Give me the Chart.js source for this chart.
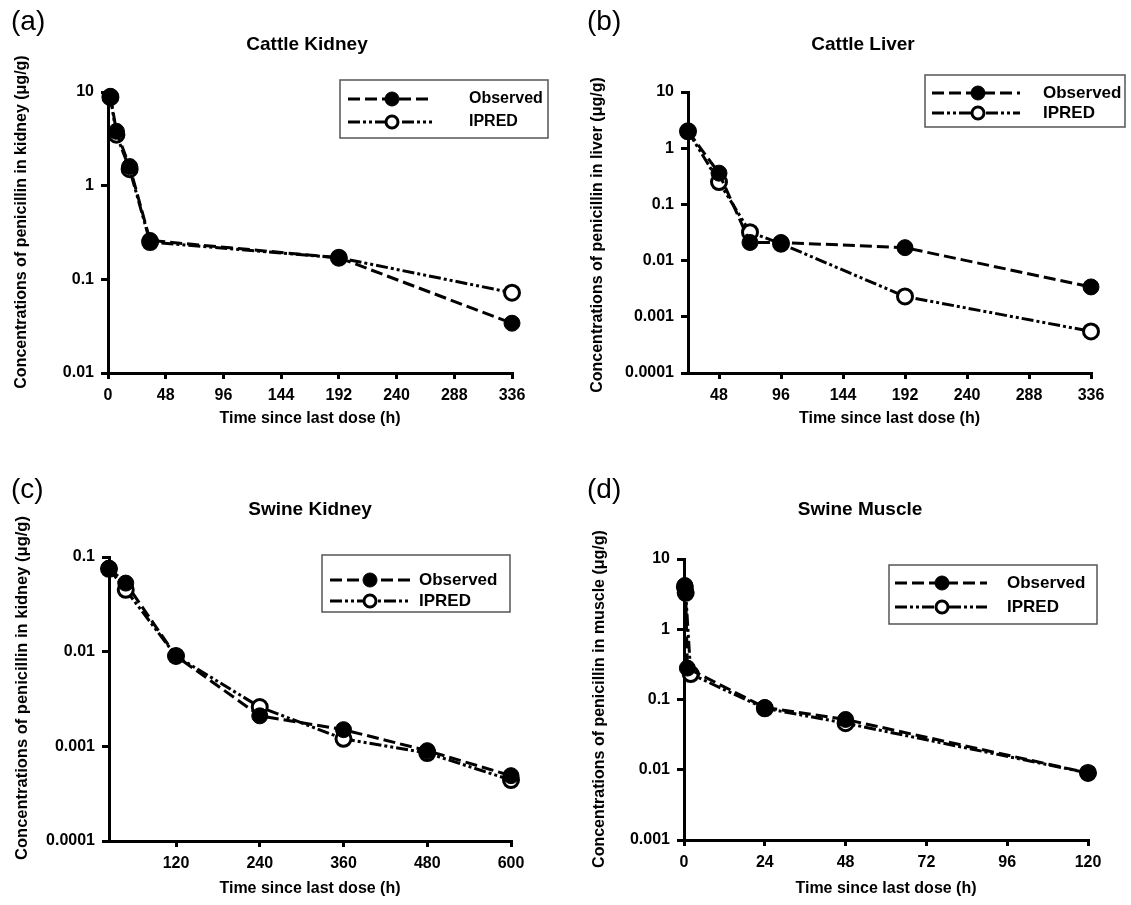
<!DOCTYPE html>
<html>
<head>
<meta charset="utf-8">
<script src="https://cdn.jsdelivr.net/npm/chart.js@4"></script>
<style>
  body { margin: 0; background: #fff; }
  #wrap { position: relative; width: 1131px; height: 905px; }
  canvas { position: absolute; }
</style>
</head>
<body>
<div id="wrap">
  <canvas id="cA" width="565" height="452" style="left:0;top:0"></canvas>
  <canvas id="cB" width="566" height="452" style="left:565px;top:0"></canvas>
  <canvas id="cC" width="565" height="453" style="left:0;top:452px"></canvas>
  <canvas id="cD" width="566" height="453" style="left:565px;top:452px"></canvas>
</div>
<script>
// (a) Cattle kidney
const kidneyCattleObsT = [2, 7, 18, 35, 192, 336];
const kidneyCattleObs  = [9.0, 3.8, 1.6, 0.26, 0.17, 0.034];
const kidneyCattlePredT = [2, 7, 18, 35, 192, 336];
const kidneyCattlePred  = [8.8, 3.5, 1.5, 0.25, 0.17, 0.072];

// (b) Cattle liver
const liverObsT = [24, 48, 72, 96, 192, 336];
const liverObs  = [2.0, 0.36, 0.021, 0.021, 0.017, 0.0034];
const liverPredT = [24, 48, 72, 96, 192, 336];
const liverPred  = [2.0, 0.25, 0.032, 0.02, 0.0023, 0.00055];

// (c) Swine kidney
const kidneySwineObsT = [24, 48, 120, 240, 360, 480, 600];
const kidneySwineObs  = [0.076, 0.053, 0.009, 0.0021, 0.0015, 0.0009, 0.00049];
const kidneySwinePredT = [24, 48, 120, 240, 360, 480, 600];
const kidneySwinePred  = [0.075, 0.045, 0.009, 0.0026, 0.0012, 0.00085, 0.00044];

// (d) Swine muscle
const muscleObsT = [0.25, 0.5, 1, 24, 48, 120];
const muscleObs  = [4.2, 3.4, 0.28, 0.077, 0.052, 0.009];
const musclePredT = [0.25, 0.5, 2, 24, 48, 120];
const musclePred  = [4.0, 3.3, 0.23, 0.075, 0.046, 0.009];

// ticks
const xTicksA = [0, 48, 96, 144, 192, 240, 288, 336];
const xTicksB = [48, 96, 144, 192, 240, 288, 336];
const xTicksC = [120, 240, 360, 480, 600];
const xTicksD = [0, 24, 48, 72, 96, 120];
const yTicksA = [0.01, 0.1, 1, 10];
const yTicksB = [0.0001, 0.001, 0.01, 0.1, 1, 10];
const yTicksC = [0.0001, 0.001, 0.01, 0.1];
const yTicksD = [0.001, 0.01, 0.1, 1, 10];
const yLabelText = { 0.0001: '0.0001', 0.001: '0.001', 0.01: '0.01', 0.1: '0.1', 1: '1', 10: '10' };

const FONT = "'Liberation Sans', Arial, sans-serif";
const obsDash = [12, 5];
const predDash = [12, 3, 3, 3, 3, 3];

function pairs(xs, ys) {
  return xs.map((x, i) => ({ x: x, y: ys[i] }));
}

// panel letter, titles and legend box
const decor = {
  id: 'decor',
  afterDraw(chart) {
    const o = chart.options.plugins.decor;
    const ctx = chart.ctx;
    ctx.save();
    ctx.fillStyle = '#000';
    ctx.textBaseline = 'middle';
    ctx.textAlign = 'left';
    ctx.font = '28px ' + FONT;
    ctx.fillText(o.letter, o.letterX, o.letterY);
    ctx.textAlign = 'center';
    ctx.font = 'bold 19px ' + FONT;
    ctx.fillText(o.title, o.titleX, o.titleY);

    // y axis title
    ctx.save();
    ctx.translate(o.yTitleX, o.yTitleY);
    ctx.rotate(-Math.PI / 2);
    ctx.font = 'bold ' + o.yTitleSize + 'px ' + FONT;
    ctx.fillText(o.yTitle, 0, 0);
    ctx.restore();

    const L = o.legend;
    ctx.strokeStyle = '#555';
    ctx.lineWidth = 1.5;
    ctx.strokeRect(L.x, L.y, L.w, L.h);
    const rows = [
      { text: 'Observed', dash: obsDash, fill: '#000', r: 7, bw: 1 },
      { text: 'IPRED', dash: predDash, fill: '#fff', r: 6, bw: 3 }
    ];
    rows.forEach((row, i) => {
      const y = L.rows[i];
      ctx.strokeStyle = '#000';
      ctx.lineWidth = 3;
      ctx.setLineDash(row.dash);
      ctx.beginPath();
      ctx.moveTo(L.x1, y);
      ctx.lineTo(L.x2, y);
      ctx.stroke();
      ctx.setLineDash([]);
      ctx.beginPath();
      ctx.arc(L.mx, y, row.r, 0, Math.PI * 2);
      ctx.fillStyle = row.fill;
      ctx.fill();
      ctx.lineWidth = row.bw;
      ctx.stroke();
      ctx.fillStyle = '#000';
      ctx.textAlign = 'left';
      ctx.font = 'bold ' + L.size + 'px ' + FONT;
      ctx.fillText(row.text, L.tx, y);
    });
    ctx.restore();
  }
};

function makePanel(id, p) {
  const axisFont = { family: FONT, size: 16, weight: 'bold' };
  new Chart(document.getElementById(id), {
    type: 'line',
    data: {
      datasets: [{
        label: 'Observed',
        data: pairs(p.obsT, p.obs),
        borderColor: '#000',
        borderWidth: 3,
        borderDash: obsDash,
        pointRadius: 8,
        pointBackgroundColor: '#000',
        pointBorderColor: '#000',
        pointBorderWidth: 1,
        tension: 0,
        clip: false
      }, {
        label: 'IPRED',
        data: pairs(p.predT, p.pred),
        borderColor: '#000',
        borderWidth: 3,
        borderDash: predDash,
        pointRadius: 7.5,
        pointBackgroundColor: '#fff',
        pointBorderColor: '#000',
        pointBorderWidth: 3,
        tension: 0,
        clip: false
      }]
    },
    plugins: [decor],
    options: {
      responsive: false,
      animation: false,
      devicePixelRatio: 1,
      layout: { padding: { left: 0, right: p.padRight, top: p.top, bottom: 0 } },
      plugins: {
        legend: { display: false },
        tooltip: { enabled: false },
        title: { display: false },
        decor: p.decor
      },
      scales: {
        x: {
          type: 'linear',
          min: p.xMin,
          max: p.xMax,
          afterBuildTicks: s => { s.ticks = p.xTicks.map(v => ({ value: v })); },
          afterFit: s => { s.height = p.xHeight; },
          grid: { drawOnChartArea: false, drawTicks: true, tickLength: 6, color: '#000', lineWidth: 3 },
          border: { display: true, color: '#000', width: 3 },
          ticks: { font: axisFont, color: '#000', padding: 7, maxRotation: 0, autoSkip: false },
          title: { display: true, text: 'Time since last dose (h)', font: axisFont, color: '#000', padding: { top: 0, bottom: p.xTitlePad } }
        },
        y: {
          type: 'logarithmic',
          min: p.yMin,
          max: p.yMax,
          afterBuildTicks: s => { s.ticks = p.yTicks.map(v => ({ value: v })); },
          afterFit: s => { s.width = p.yWidth; },
          grid: { drawOnChartArea: false, drawTicks: true, tickLength: 7, color: '#000', lineWidth: 3 },
          border: { display: true, color: '#000', width: 3 },
          ticks: { font: axisFont, color: '#000', padding: 7, autoSkip: false, callback: v => yLabelText[v] || '' },
          title: { display: false }
        }
      }
    }
  });
}

makePanel('cA', {
  obsT: kidneyCattleObsT, obs: kidneyCattleObs, predT: kidneyCattlePredT, pred: kidneyCattlePred,
  xMin: 0, xMax: 336, xTicks: xTicksA, yMin: 0.01, yMax: 10, yTicks: yTicksA,
  top: 92, padRight: 53, yWidth: 108, xHeight: 79, xTitlePad: 24,
  decor: { letter: '(a)', letterX: 11, letterY: 22, title: 'Cattle Kidney', titleX: 307, titleY: 45,
    yTitle: 'Concentrations of penicillin in kidney (\u03bcg/g)', yTitleX: 22, yTitleY: 222, yTitleSize: 16,
    legend: { x: 340, y: 80, w: 208, h: 58, rows: [99, 122], x1: 348, x2: 432, mx: 392, tx: 469, size: 16 } }
});

makePanel('cB', {
  obsT: liverObsT, obs: liverObs, predT: liverPredT, pred: liverPred,
  xMin: 24, xMax: 336, xTicks: xTicksB, yMin: 0.0001, yMax: 10, yTicks: yTicksB,
  top: 92, padRight: 40, yWidth: 123, xHeight: 79, xTitlePad: 24,
  decor: { letter: '(b)', letterX: 22, letterY: 22, title: 'Cattle Liver', titleX: 298, titleY: 45,
    yTitle: 'Concentrations of penicillin in liver (\u03bcg/g)', yTitleX: 33, yTitleY: 235, yTitleSize: 16,
    legend: { x: 360, y: 75, w: 200, h: 52, rows: [93, 113], x1: 367, x2: 455, mx: 413, tx: 478, size: 17 } }
});

makePanel('cC', {
  obsT: kidneySwineObsT, obs: kidneySwineObs, predT: kidneySwinePredT, pred: kidneySwinePred,
  xMin: 24, xMax: 600, xTicks: xTicksC, yMin: 0.0001, yMax: 0.1, yTicks: yTicksC,
  top: 105, padRight: 54, yWidth: 109, xHeight: 64, xTitlePad: 7,
  decor: { letter: '(c)', letterX: 11, letterY: 38, title: 'Swine Kidney', titleX: 310, titleY: 58,
    yTitle: 'Concentrations of penicillin in kidney (\u03bcg/g)', yTitleX: 22, yTitleY: 236, yTitleSize: 16.5,
    legend: { x: 322, y: 103, w: 188, h: 57, rows: [128, 149], x1: 330, x2: 410, mx: 370, tx: 419, size: 17 } }
});

makePanel('cD', {
  obsT: muscleObsT, obs: muscleObs, predT: musclePredT, pred: musclePred,
  xMin: 0, xMax: 120, xTicks: xTicksD, yMin: 0.001, yMax: 10, yTicks: yTicksD,
  top: 107, padRight: 43, yWidth: 119, xHeight: 65, xTitlePad: 7,
  decor: { letter: '(d)', letterX: 22, letterY: 38, title: 'Swine Muscle', titleX: 295, titleY: 58,
    yTitle: 'Concentrations of penicillin in muscle (\u03bcg/g)', yTitleX: 35, yTitleY: 247, yTitleSize: 16,
    legend: { x: 324, y: 113, w: 208, h: 59, rows: [131, 155], x1: 330, x2: 422, mx: 377, tx: 442, size: 17 } }
});
</script>
</body>
</html>
